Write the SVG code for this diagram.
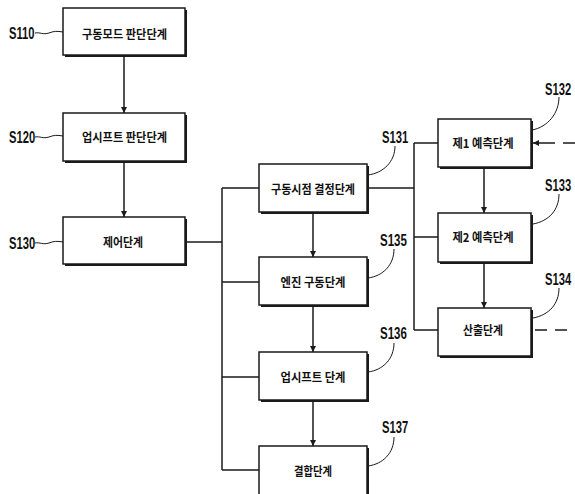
<svg xmlns="http://www.w3.org/2000/svg" width="575" height="494" viewBox="0 0 575 494">
<style>
.box{fill:#fff;stroke:#1a1a1a;stroke-width:1.5}
.sh{fill:#1a1a1a}
.t{font-family:"Noto Sans CJK KR","Noto Sans",sans-serif;font-size:12px;font-weight:bold;fill:#111;text-anchor:middle}
.lb{font-family:"Liberation Sans",Arial,sans-serif;font-size:16px;font-weight:bold;fill:#111}
.ln{fill:none;stroke:#1a1a1a;stroke-width:1.5}
.ld{fill:none;stroke:#1a1a1a;stroke-width:1}
.ds{fill:none;stroke:#1a1a1a;stroke-width:1.5;stroke-dasharray:12 8}
</style>
<defs>
<marker id="ah" viewBox="0 0 10 10" refX="10" refY="5" markerWidth="6" markerHeight="6.5" orient="auto" markerUnits="userSpaceOnUse">
<path d="M0,0 L10,5 L0,10 z" fill="#1a1a1a"/>
</marker>
</defs>
<rect width="575" height="494" fill="#fff"/>
<g id="connectors">
<path class="ln" d="M124,56 V113" marker-end="url(#ah)"/>
<path class="ln" d="M124,161 V217" marker-end="url(#ah)"/>
<path class="ln" d="M185,242 H222"/>
<path class="ln" d="M222,188 V470"/>
<path class="ln" d="M222,188 H259 M222,282 H259 M222,377 H259 M222,470 H259"/>
<path class="ln" d="M313,212 V257" marker-end="url(#ah)"/>
<path class="ln" d="M313,305 V352" marker-end="url(#ah)"/>
<path class="ln" d="M313,400 V446" marker-end="url(#ah)"/>
<path class="ln" d="M367,188 H414"/>
<path class="ln" d="M414,143 V330"/>
<path class="ln" d="M414,143 H438 M414,237 H438 M414,330 H438"/>
<path class="ln" d="M484,167 V213" marker-end="url(#ah)"/>
<path class="ln" d="M484,262 V308" marker-end="url(#ah)"/>
<path class="ds" d="M575,143 H545"/>
<path class="ln" d="M545,143 H533" marker-end="url(#ah)"/>
<path class="ds" d="M535,330 H575"/>
<path class="ld" d="M35,33 c5,-1 8,2 14,0 c5,-2 8,-2 14,-1"/>
<path class="ld" d="M35,137 c5,-1 8,2 14,0 c5,-2 8,-2 14,-1"/>
<path class="ld" d="M35,243 c5,-1 8,2 14,0 c5,-2 8,-2 14,-1"/>
<path class="ld" d="M395,146 C395,162 383,173 368,175"/>
<path class="ld" d="M394,249 C394,265 383,276 368,278"/>
<path class="ld" d="M394,343 C394,359 383,370 368,372"/>
<path class="ld" d="M394,437 C394,453 383,464 368,466"/>
<path class="ld" d="M559,97 C559,113 548,127 532,130"/>
<path class="ld" d="M559,194 C559,210 549,221 533,224"/>
<path class="ld" d="M559,288 C559,304 549,315 533,318"/>
</g>
<g id="S110">
<rect class="sh" x="65" y="10" width="122" height="47"/>
<rect class="box" x="63" y="8" width="122" height="47"/>
<text class="t" x="124.5" y="38.5" textLength="85" lengthAdjust="spacingAndGlyphs">구동모드 판단단계</text>
<text class="lb" transform="translate(9,39) scale(0.7,1)">S110</text>
</g>
<g id="S120">
<rect class="sh" x="65" y="115" width="122" height="48"/>
<rect class="box" x="63" y="113" width="122" height="48"/>
<text class="t" x="124.5" y="142" textLength="85" lengthAdjust="spacingAndGlyphs">업시프트 판단단계</text>
<text class="lb" transform="translate(9,143) scale(0.7,1)">S120</text>
</g>
<g id="S130">
<rect class="sh" x="65" y="219" width="122" height="47"/>
<rect class="box" x="63" y="217" width="122" height="47"/>
<text class="t" x="123" y="246.5" textLength="40" lengthAdjust="spacingAndGlyphs">제어단계</text>
<text class="lb" transform="translate(9,249) scale(0.7,1)">S130</text>
</g>
<g id="S131">
<rect class="sh" x="261" y="166" width="108" height="48"/>
<rect class="box" x="259" y="164" width="108" height="48"/>
<text class="t" x="313" y="193.5" textLength="84" lengthAdjust="spacingAndGlyphs">구동시점 결정단계</text>
<text class="lb" transform="translate(382,143) scale(0.7,1)">S131</text>
</g>
<g id="S135">
<rect class="sh" x="261" y="259" width="108" height="48"/>
<rect class="box" x="259" y="257" width="108" height="48"/>
<text class="t" x="313" y="286.5" textLength="65" lengthAdjust="spacingAndGlyphs">엔진 구동단계</text>
<text class="lb" transform="translate(380,246) scale(0.72,1)">S135</text>
</g>
<g id="S136">
<rect class="sh" x="261" y="354" width="108" height="48"/>
<rect class="box" x="259" y="352" width="108" height="48"/>
<text class="t" x="313" y="381.5" textLength="65" lengthAdjust="spacingAndGlyphs">업시프트 단계</text>
<text class="lb" transform="translate(380,339) scale(0.72,1)">S136</text>
</g>
<g id="S137">
<rect class="sh" x="261" y="448" width="108" height="50"/>
<rect class="box" x="259" y="446" width="108" height="50"/>
<text class="t" x="313" y="476" textLength="38" lengthAdjust="spacingAndGlyphs">결합단계</text>
<text class="lb" transform="translate(382,433) scale(0.7,1)">S137</text>
</g>
<g id="S132">
<rect class="sh" x="440" y="121" width="93" height="48"/>
<rect class="box" x="438" y="119" width="93" height="48"/>
<text class="t" x="483" y="147.5" textLength="61" lengthAdjust="spacingAndGlyphs">제1 예측단계</text>
<text class="lb" transform="translate(545,95) scale(0.7,1)">S132</text>
</g>
<g id="S133">
<rect class="sh" x="440" y="215" width="93" height="49"/>
<rect class="box" x="438" y="213" width="93" height="49"/>
<text class="t" x="483" y="242" textLength="61" lengthAdjust="spacingAndGlyphs">제2 예측단계</text>
<text class="lb" transform="translate(545,191) scale(0.7,1)">S133</text>
</g>
<g id="S134">
<rect class="sh" x="440" y="310" width="93" height="48"/>
<rect class="box" x="438" y="308" width="93" height="48"/>
<text class="t" x="483" y="335" textLength="40" lengthAdjust="spacingAndGlyphs">산출단계</text>
<text class="lb" transform="translate(545,285) scale(0.7,1)">S134</text>
</g>
</svg>
